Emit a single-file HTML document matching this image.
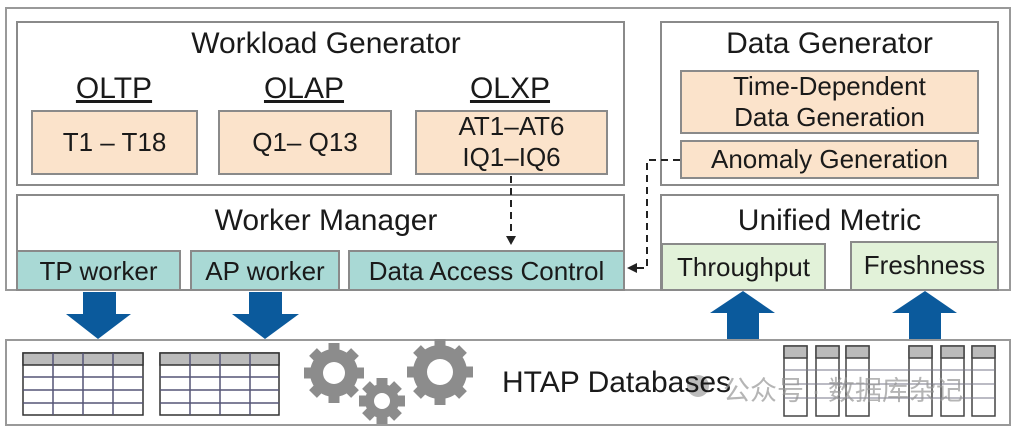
<!DOCTYPE html>
<html><head><meta charset="utf-8"><style>
body{margin:0;width:1016px;height:432px;background:#fff;overflow:hidden;font-family:"Liberation Sans","Noto Sans CJK SC",sans-serif;color:#1a1a1a}
.b{position:absolute;box-sizing:border-box;border:2px solid #8a8a8a}
.t{position:absolute;text-align:center;white-space:nowrap}
.o{background:#fbe3cb}
.g{background:#a9d9d5}
.l{background:#e2f2d9}
</style></head><body>
<div class="b" style="left:5px;top:7px;width:1006px;height:284px;border-color:#999"></div>
<div class="b" style="left:16px;top:21px;width:609px;height:165px"></div>
<div class="b" style="left:660px;top:21px;width:339px;height:165px"></div>
<div class="b" style="left:16px;top:194px;width:609px;height:97px"></div>
<div class="b" style="left:660px;top:194px;width:339px;height:97px"></div>
<div class="t" style="left:16px;width:620px;top:27px;font-size:30px">Workload Generator</div>
<div class="t" style="left:660px;width:339px;top:27px;font-size:30px">Data Generator</div>
<div class="t" style="left:16px;width:620px;top:204px;font-size:30px">Worker Manager</div>
<div class="t" style="left:660px;width:339px;top:204px;font-size:30px">Unified Metric</div>
<div class="t" style="left:34px;width:160px;top:72px;font-size:30px;text-decoration:underline">OLTP</div>
<div class="t" style="left:224px;width:160px;top:72px;font-size:30px;text-decoration:underline">OLAP</div>
<div class="t" style="left:430px;width:160px;top:72px;font-size:30px;text-decoration:underline">OLXP</div>
<div class="b o" style="left:31px;top:110px;width:167px;height:65px"></div>
<div class="b o" style="left:218px;top:110px;width:174px;height:65px"></div>
<div class="b o" style="left:415px;top:110px;width:193px;height:65px"></div>
<div class="t" style="left:31px;width:167px;top:127px;font-size:26px">T1 – T18</div>
<div class="t" style="left:218px;width:174px;top:127px;font-size:26px">Q1– Q13</div>
<div class="t" style="left:415px;width:193px;top:111px;font-size:26px;line-height:31px">AT1–AT6<br>IQ1–IQ6</div>
<div class="b o" style="left:680px;top:70px;width:299px;height:64px"></div>
<div class="t" style="left:680px;width:299px;top:71px;font-size:26px;line-height:31px">Time-Dependent<br>Data Generation</div>
<div class="b o" style="left:680px;top:140px;width:299px;height:39px"></div>
<div class="t" style="left:680px;width:299px;top:144px;font-size:26px">Anomaly Generation</div>
<div class="b g" style="left:16px;top:250px;width:165px;height:41px"></div>
<div class="b g" style="left:190px;top:250px;width:150px;height:41px"></div>
<div class="b g" style="left:348px;top:250px;width:277px;height:41px"></div>
<div class="t" style="left:16px;width:165px;top:256px;font-size:26px">TP worker</div>
<div class="t" style="left:190px;width:150px;top:256px;font-size:26px">AP worker</div>
<div class="t" style="left:348px;width:277px;top:256px;font-size:26px">Data Access Control</div>
<div class="b l" style="left:661px;top:243px;width:165px;height:48px"></div>
<div class="b l" style="left:850px;top:241px;width:149px;height:50px"></div>
<div class="t" style="left:661px;width:165px;top:252px;font-size:26px">Throughput</div>
<div class="t" style="left:850px;width:149px;top:250px;font-size:26px">Freshness</div>
<div class="b" style="left:5px;top:339px;width:1006px;height:87px;border-color:#999"></div>
<svg style="position:absolute;left:0;top:0" width="1016" height="432">
<g stroke="#222" stroke-width="2" stroke-dasharray="7,5" fill="none">
<path d="M511 176 V238"/><path d="M680 160 H647 V268 H636"/>
</g>
<path d="M506 236 L516 236 L511 245Z" fill="#222"/>
<path d="M627 268 L637 263 L637 273Z" fill="#222"/>
<g fill="#0b5a9c">
<path d="M83 292 H116 V314 H131 L98 339 L66 314 H83Z"/>
<path d="M249 292 H282 V314 H299 L265 339 L232 314 H249Z"/>
<path d="M727 339 H759 V313 H775 L743 291 L710 313 H727Z"/>
<path d="M909 339 H941 V313 H957 L925 291 L892 313 H909Z"/>
</g>
<g stroke="#333" stroke-width="1.5">
<rect x="23" y="353" width="120" height="62" fill="#fff"/><rect x="23" y="353" width="120" height="12" fill="#bbb"/>
<path d="M23 377H143M23 390H143M23 403H143M53 353V415M83 353V415M113 353V415" stroke="#557"/>
<rect x="160" y="353" width="119" height="62" fill="#fff"/><rect x="160" y="353" width="119" height="12" fill="#bbb"/>
<path d="M160 377H279M160 390H279M160 403H279M190 353V415M220 353V415M250 353V415" stroke="#557"/>
</g>
<g fill="#8c8c8c">
<circle cx="334" cy="373" r="24"/><circle cx="440" cy="372" r="27"/><circle cx="382" cy="401" r="17"/>
<g stroke="#8c8c8c" stroke-width="11">
<path d="M334 343V403M304 373H364M313 352L355 394M355 352L313 394"/>
<path d="M440 339V405M407 372H473M417 349L463 395M463 349L417 395"/>
<path d="M382 378V424M359 401H405M366 385L398 417M398 385L366 417"/>
</g>
<circle cx="334" cy="373" r="11" fill="#fff"/><circle cx="440" cy="372" r="13" fill="#fff"/><circle cx="382" cy="401" r="8" fill="#fff"/>
</g>
<g stroke="#444" stroke-width="1.5">
<g fill="#fff">
<rect x="784" y="346" width="23" height="70"/><rect x="816" y="346" width="23" height="70"/><rect x="846" y="346" width="23" height="70"/>
<rect x="909" y="346" width="23" height="70"/><rect x="941" y="346" width="23" height="70"/><rect x="972" y="346" width="23" height="70"/>
</g>
<g fill="#bbb">
<rect x="784" y="346" width="23" height="12"/><rect x="816" y="346" width="23" height="12"/><rect x="846" y="346" width="23" height="12"/>
<rect x="909" y="346" width="23" height="12"/><rect x="941" y="346" width="23" height="12"/><rect x="972" y="346" width="23" height="12"/>
</g>
<path d="M784 370H995M784 384H995M784 398H995" stroke="#778" stroke-width="1"/>
</g>
<circle cx="698" cy="386" r="11" fill="#bbb"/>
</svg>
<div class="t" style="left:502px;top:366px;font-size:30px">HTAP Databases</div>
<div class="t" style="left:723px;top:369px;font-size:27px;color:rgba(150,150,150,0.7)">公众号 · 数据库杂记</div>
</body></html>
